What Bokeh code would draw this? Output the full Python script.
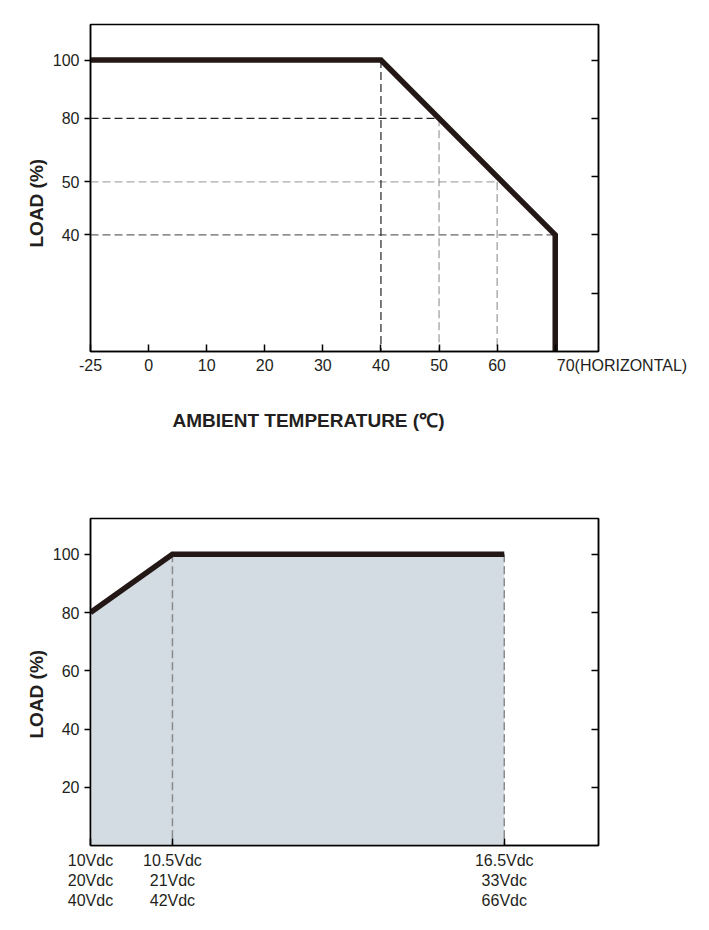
import numpy as np
from bokeh.plotting import figure
from bokeh.models import FixedTicker, LinearAxis, Range1d, Title, CustomLabelingPolicy
from bokeh.layouts import column
from bokeh.embed import file_html
from bokeh.resources import INLINE

# ---------------- data: derating curve (top) ----------------
TEMP_TICKS = [-25, 0, 10, 20, 30, 40, 50, 60, 70]
TEMP_TICK_LABELS = ["-25", "0", "10", "20", "30", "40", "50", "60", "70(HORIZONTAL)"]
TOP_LOAD_TICKS = [100, 80, 50, 40]
CURVE_TEMP = [-25, 40, 70, 70]
CURVE_LOAD = [100, 100, 40, 0]
H_GUIDE_LOAD = [80, 50, 40]
H_GUIDE_TEMP_END = [50, 60, 70]
V_GUIDE_TEMP = [40, 50, 60]
V_GUIDE_LOAD_TOP = [100, 80, 50]
X_TITLE = "AMBIENT TEMPERATURE (℃)"
Y_TITLE = "LOAD (%)"

# ---------------- data: input voltage vs load (bottom) ----------------
VOLT_TICKS = [10, 10.5, 16.5]
VOLT_LABELS = ["10Vdc\n20Vdc\n40Vdc", "10.5Vdc\n21Vdc\n42Vdc", "16.5Vdc\n33Vdc\n66Vdc"]
BOTTOM_LOAD_TICKS = [20, 40, 60, 80, 100]
INPUT_V = [10, 10.5, 16.5]
INPUT_LOAD = [80, 100, 100]

# piecewise axis layouts of the original drawing
T_KNOTS, T_POS = [-25, 0, 70], [-10, 0, 70]
L_KNOTS, L_POS = [0, 40, 50, 80, 100], [0, 20, 29.1, 40, 50]
V_KNOTS, V_POS = [10, 10.5, 16.5], [0, 1, 5.05]

def tx(v):
    return [float(a) for a in np.interp(v, T_KNOTS, T_POS)]

def ly(v):
    return [float(a) for a in np.interp(v, L_KNOTS, L_POS)]

def vx(v):
    return [float(a) for a in np.interp(v, V_KNOTS, V_POS)]

FONT = "Liberation Sans"
LINE_C = "#231815"
TXT_C = "#231f20"
PAD = "\u2007" * 15   # shifts the wide last label so that it starts at its tick

NO_LABELS = CustomLabelingPolicy(
    code="for (let i = 0; i < indices.size; i++) { indices.unset(i) } return indices")

def style(p):
    p.grid.visible = False
    p.outline_line_color = "black"
    p.outline_line_width = 1.5
    p.background_fill_color = "white"
    p.border_fill_color = "white"
    for ax in p.axis:
        ax.axis_line_color = "black"
        ax.axis_line_width = 1.5
        ax.major_tick_line_color = "black"
        ax.major_tick_line_width = 1.5
        ax.minor_tick_line_color = None
        ax.major_label_text_font = FONT
        ax.major_label_text_font_size = "16px"
        ax.major_label_text_color = TXT_C

def side_title(text, size, align, offset, standoff):
    return Title(text=text, align=align, offset=offset, standoff=standoff,
                 text_font=FONT, text_font_size=size, text_font_style="bold",
                 text_color=TXT_C)

def right_ticks(p, ticks):
    ax = LinearAxis(ticker=FixedTicker(ticks=ticks), major_label_policy=NO_LABELS)
    p.add_layout(ax, "right")
    return ax

# ---------------- top figure ----------------
p1 = figure(frame_width=508, frame_height=327,
            x_range=Range1d(-10, 77.45), y_range=Range1d(0, 56.1),
            output_backend="svg", toolbar_location=None,
            min_border_left=90, min_border_right=111,
            min_border_top=24, min_border_bottom=119)
right_ticks(p1, [10, 20, 30, 40, 50])
style(p1)
p1.yaxis[1].major_tick_in = 7
p1.yaxis[1].major_tick_out = 0

xt = tx(TEMP_TICKS)
labels = TEMP_TICK_LABELS[:-1] + [PAD + TEMP_TICK_LABELS[-1]]
p1.xaxis[0].ticker = FixedTicker(ticks=xt)
p1.xaxis[0].major_label_overrides = {k: l for k, l in zip(xt, labels)}
p1.xaxis[0].major_tick_in = 7
p1.xaxis[0].major_tick_out = 0

yt = ly(TOP_LOAD_TICKS)
p1.yaxis[0].ticker = FixedTicker(ticks=yt)
p1.yaxis[0].major_label_overrides = {k: str(l) for k, l in zip(yt, TOP_LOAD_TICKS)}
p1.yaxis[0].major_tick_in = 0
p1.yaxis[0].major_tick_out = 6

p1.add_layout(side_title(X_TITLE, "19px", "left", 82, 62), "below")
p1.add_layout(side_title(Y_TITLE, "19px", "left", 104, 5), "left")

# guides
guide_h_colors = ["#222222", "#aaaaaa", "#666666"]
for ld, te, c in zip(H_GUIDE_LOAD, H_GUIDE_TEMP_END, guide_h_colors):
    p1.line(tx([-25, te]), ly([ld, ld]), line_color=c, line_width=1.2, line_dash="8 4")
guide_v_colors = ["#222222", "#999999", "#999999"]
for te, ld, c in zip(V_GUIDE_TEMP, V_GUIDE_LOAD_TOP, guide_v_colors):
    p1.line(tx([te, te]), ly([ld, 0]), line_color=c, line_width=1.2, line_dash="8 4")

p1.line(tx(CURVE_TEMP), ly(CURVE_LOAD), line_color=LINE_C, line_width=5.5, line_join="miter")

# ---------------- bottom figure ----------------
p2 = figure(frame_width=508, frame_height=327,
            x_range=Range1d(0, 6.2), y_range=Range1d(0, 112.3),
            output_backend="svg", toolbar_location=None,
            min_border_left=90, min_border_right=111,
            min_border_top=48, min_border_bottom=85)
right_ticks(p2, BOTTOM_LOAD_TICKS)
style(p2)
p2.yaxis[1].major_tick_in = 7
p2.yaxis[1].major_tick_out = 0

vt = vx(VOLT_TICKS)
p2.xaxis[0].ticker = FixedTicker(ticks=vt)
p2.xaxis[0].major_label_overrides = {k: l for k, l in zip(vt, VOLT_LABELS)}
p2.xaxis[0].major_tick_in = 7
p2.xaxis[0].major_tick_out = 0
p2.xaxis[0].major_label_standoff = 6

p2.yaxis[0].ticker = FixedTicker(ticks=BOTTOM_LOAD_TICKS)
p2.yaxis[0].major_tick_in = 0
p2.yaxis[0].major_tick_out = 6

p2.add_layout(side_title(Y_TITLE, "19px", "left", 107, 5), "left")

xv = vx(INPUT_V)
p2.varea(x=xv, y1=[0] * len(xv), y2=INPUT_LOAD, fill_color="#d3dbe3")
for v, ld in zip(INPUT_V[1:], INPUT_LOAD[1:]):
    p2.line(vx([v, v]), [ld, 0], line_color="#8a8a8a", line_width=1.5, line_dash="8 4")
p2.line(xv, INPUT_LOAD, line_color=LINE_C, line_width=5.5, line_join="miter")

layout = column(p1, p2, spacing=0)
open("out.html", "w").write(file_html(layout, INLINE))
